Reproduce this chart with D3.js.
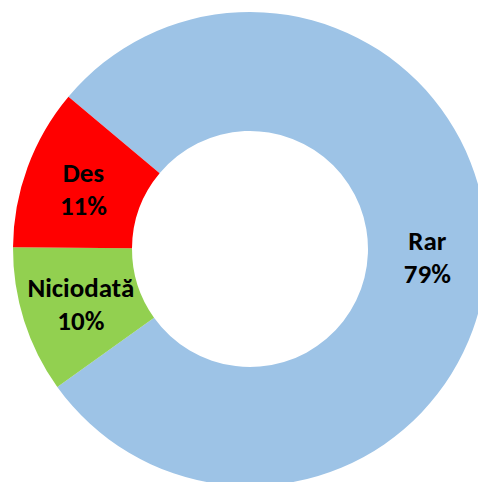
<!DOCTYPE html>
<html><head><meta charset="utf-8">
<script src="https://cdn.jsdelivr.net/npm/d3@7"></script>
<style>body{margin:0;background:#fff}svg{display:block}</style>
</head><body>
<svg id="c" width="478" height="482"></svg>
<script>
const categories = ["Rar", "Niciodată", "Des"];
const values = [79, 10, 11];
const labels = ["79%", "10%", "11%"];
const colors = ["#9DC3E6", "#92D050", "#FF0000"];

const svg = d3.select("#c");
const cx = 250, cy = 249, R = 237, r = 118;
const g = svg.append("g").attr("transform", `translate(${cx},${cy})`);
const start = -50 * Math.PI / 180;
const pie = d3.pie().sort(null).value(d => d).startAngle(start).endAngle(start + 2 * Math.PI);
const arcs = pie(values);
const arc = d3.arc().innerRadius(r).outerRadius(R);
g.selectAll("path").data(arcs).enter().append("path")
  .attr("d", arc).attr("fill", (d, i) => colors[i]);
const t = g.selectAll("text.lbl").data(arcs).enter().append("text")
  .attr("class", "lbl")
  .attr("transform", d => `translate(${arc.centroid(d)})`)
  .attr("text-anchor", "middle")
  .style("font-family", "Carlito, 'Liberation Sans Narrow', 'Open Sans', sans-serif")
  .style("font-weight", "bold").style("font-size", "27px").attr("fill", "#000");
t.append("tspan").attr("x", 0).attr("y", -6).text((d, i) => categories[i]);
t.append("tspan").attr("x", 0).attr("y", 27).text((d, i) => labels[i]);
</script>
</body></html>
